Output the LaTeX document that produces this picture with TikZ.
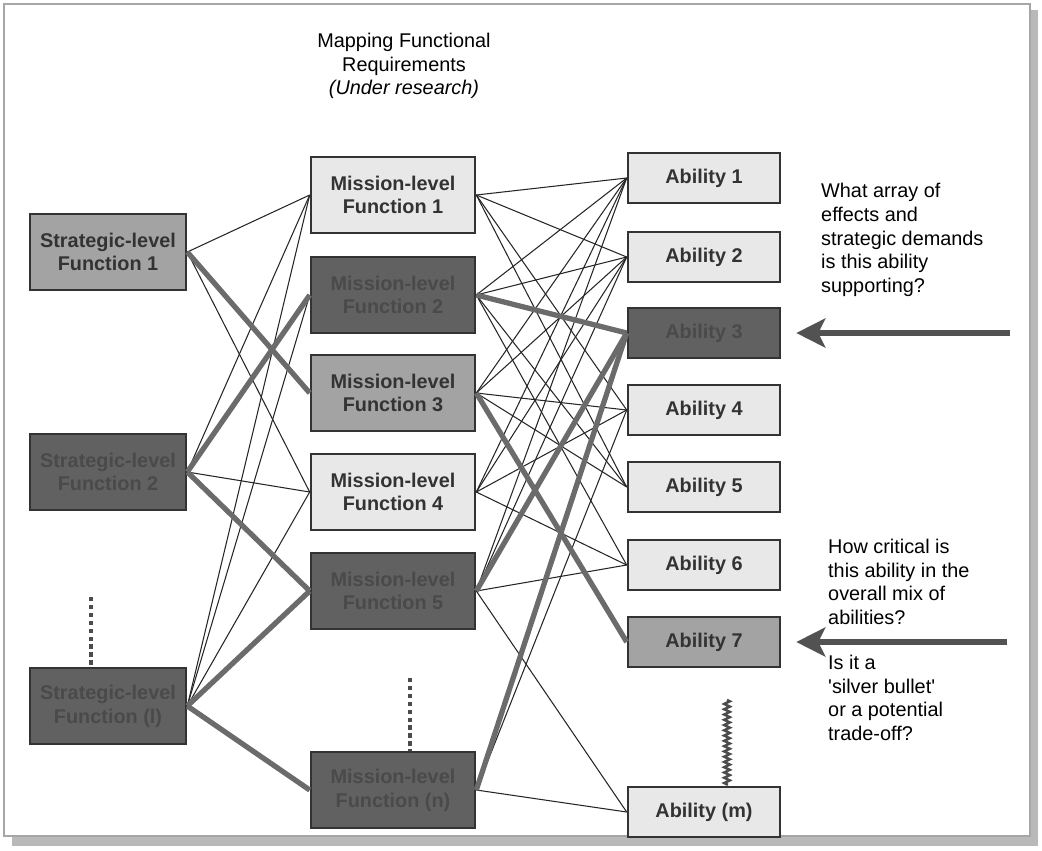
\documentclass[tikz,border=0pt]{standalone}
\usepackage{fontspec}
\setmainfont{Liberation Sans}
\usetikzlibrary{arrows.meta,decorations.pathmorphing}
\definecolor{boxlight}{gray}{0.91}
\definecolor{boxmid}{gray}{0.64}
\definecolor{boxdark}{gray}{0.38}
\definecolor{txtdark}{gray}{0.29}
\definecolor{linkthick}{gray}{0.42}
\begin{document}
\begin{tikzpicture}[x=0.02cm,y=-0.02cm,font=\fontsize{11.3}{13.5}\selectfont,
  fbox/.style={draw=black!80,line width=1.5pt,align=center,inner sep=0pt,text=black!80,
    font=\fontsize{11.3}{13.5}\selectfont\bfseries},
  sbox/.style={fbox,minimum width=3.12cm,minimum height=1.52cm},
  mbox/.style={fbox,minimum width=3.28cm,minimum height=1.52cm},
  abox/.style={fbox,minimum width=3.04cm,minimum height=1cm},
  litebox/.style={fill=boxlight}, midbox/.style={fill=boxmid},
  darkbox/.style={fill=boxdark,text=txtdark},
  link/.style={black!85,line width=0.6pt},
  heavy/.style={linkthick,line width=3pt},
  dotline/.style={black!70,line width=2.5pt,dash pattern=on 2.5pt off 2pt},
  ask/.style={black!68,line width=3pt,shorten >=0.3cm,-{Stealth[length=0.58cm,width=0.58cm,inset=0.14cm]}}]
\useasboundingbox (0,0) rectangle (1042,850);
% frame with shadow
\fill[gray!55] (1030,10) rectangle (1038,846);
\fill[gray!55] (12,836) rectangle (1038,846);
\draw[gray!70,line width=0.8pt] (4,4) rectangle (1030,836);
\node[align=center] (head) at (404,66) {Mapping Functional\\Requirements\\\textit{(Under research)}};
% strategic level
\node[sbox,midbox]  (s1) at (108,252) {Strategic-level\\Function 1};
\node[sbox,darkbox] (s2) at (108,472) {Strategic-level\\Function 2};
\node[sbox,darkbox] (sl) at (108,706) {Strategic-level\\Function (l)};
% mission level
\node[mbox,litebox] (m1) at (393,195) {Mission-level\\Function 1};
\node[mbox,darkbox] (m2) at (393,295) {Mission-level\\Function 2};
\node[mbox,midbox]  (m3) at (393,393) {Mission-level\\Function 3};
\node[mbox,litebox] (m4) at (393,492) {Mission-level\\Function 4};
\node[mbox,darkbox] (m5) at (393,591) {Mission-level\\Function 5};
\node[mbox,darkbox] (mn) at (393,790) {Mission-level\\Function (n)};
% abilities
\foreach \n/\y in {1/178,2/257,4/410,5/487,6/565}
  \node[abox,litebox] (a\n) at (704,\y) {Ability \n};
\node[abox,darkbox] (a3) at (704,333) {Ability 3};
\node[abox,midbox]  (a7) at (704,642) {Ability 7};
\node[abox,litebox] (am) at (704,812) {Ability (m)};
% connectors
\foreach \a/\b in {s1/m1,s1/m4,s2/m1,s2/m4,sl/m1,sl/m2,sl/m4}
  \draw[link] (\a.east) -- (\b.west);
\foreach \a/\b in {m1/a1,m1/a2,m1/a4,m1/a5,m2/a1,m2/a2,m2/a5,m2/a6,m3/a1,m3/a2,m3/a4,m3/a5,
    m4/a1,m4/a2,m4/a4,m4/a6,m5/a1,m5/a2,m5/a6,m5/am,mn/a4,mn/am}
  \draw[link] (\a.east) -- (\b.west);
\foreach \a/\b in {s1/m3,s2/m2,s2/m5,sl/m5,sl/mn,m2/a3,m3/a7,m5/a3,mn/a3}
  \draw[heavy] (\a.east) -- (\b.west);
% more of the same
\coordinate (sdots) at (91,597);
\coordinate (mdots) at (410,678);
\coordinate (adots) at (727,700);
\draw[dotline] (sdots) -- (sdots |- sl.north);
\draw[dotline] (mdots) -- (mdots |- mn.north);
\draw[black!70,line width=1.4pt,decorate,decoration={zigzag,amplitude=1.6pt,segment length=3pt}]
  (adots) -- (adots |- am.north);
% questions
\node[anchor=west,align=left] (q1txt) at (815,240) {What array of\\effects and\\strategic demands\\is this ability\\supporting?};
\node[anchor=west,align=left] (q2txt) at (822,582) {How critical is\\this ability in the\\overall mix of\\abilities?};
\node[anchor=west,align=left] (q3txt) at (822,698) {Is it a\\\textquotesingle silver bullet\textquotesingle\\or a potential\\trade-off?};
\coordinate (q1) at (1010,333);
\coordinate (q2) at (1007,642);
\draw[ask] (q1) -- (a3.east);
\draw[ask] (q2) -- (a7.east);
\end{tikzpicture}
\end{document}
